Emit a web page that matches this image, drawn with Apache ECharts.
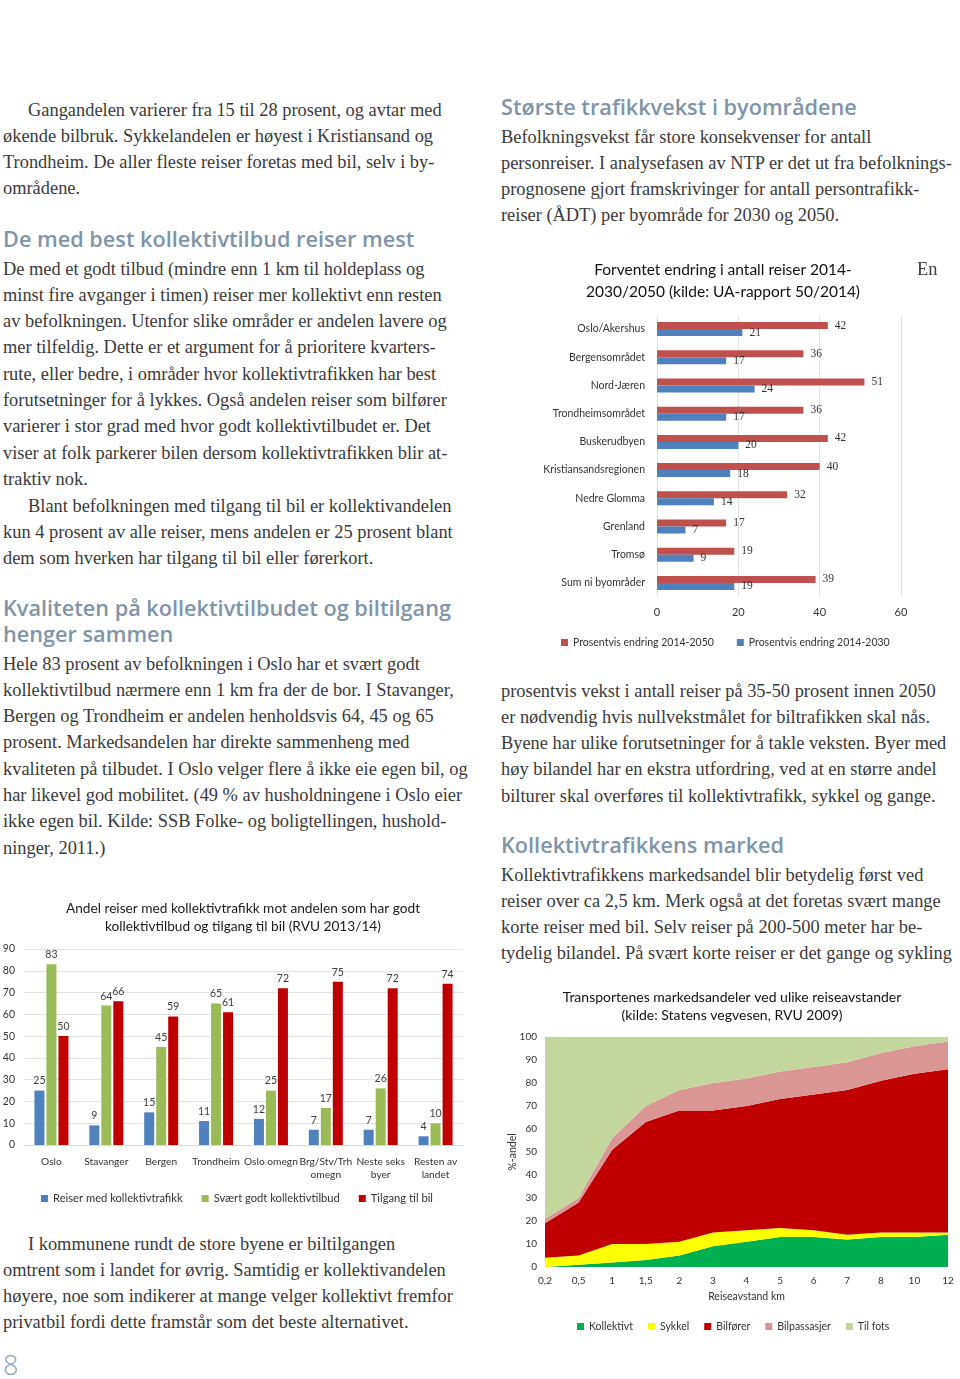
<!DOCTYPE html>
<html><head><meta charset="utf-8">
<script src="https://cdn.jsdelivr.net/npm/echarts@6/dist/echarts.min.js"></script>
<style>
html,body{margin:0;padding:0;background:#fff;}
#page{position:relative;width:960px;height:1379px;overflow:hidden;background:#fff;}
.ln{position:absolute;white-space:nowrap;font-family:"Liberation Serif",serif;font-size:18.4px;line-height:26px;color:#3a3a3a;}
.hd{position:absolute;white-space:nowrap;font-family:"Open Sans",sans-serif;font-weight:600;font-size:21.7px;line-height:26px;color:#8195a8;}
.ch{position:absolute;}
</style></head>
<body><div id="page">
<div id="c1" class="ch" style="left:0;top:890px;width:480px;height:330px;"></div>
<div id="c2" class="ch" style="left:500px;top:250px;width:460px;height:410px;"></div>
<div id="c3" class="ch" style="left:495px;top:980px;width:465px;height:360px;"></div>
</div>
<script>
// ---------- Chart 1 data ----------
const c1Categories = ['Oslo','Stavanger','Bergen','Trondheim','Oslo omegn','Brg/Stv/Trh\nomegn','Neste seks\nbyer','Resten av\nlandet'];
const c1Kollektiv = [25, 9, 15, 11, 12, 7, 7, 4];
const c1GodtTilbud = [83, 64, 45, 65, 25, 17, 26, 10];
const c1TilgangBil = [50, 66, 59, 61, 72, 75, 72, 74];
const c1Series = ['Reiser med kollektivtrafikk','Svært godt kollektivtilbud','Tilgang til bil'];

// ---------- Chart 2 data ----------
const c2Categories = ['Oslo/Akershus','Bergensområdet','Nord-Jæren','Trondheimsområdet','Buskerudbyen','Kristiansandsregionen','Nedre Glomma','Grenland','Tromsø','Sum ni byområder'];
const c2Endring2050 = [42, 36, 51, 36, 42, 40, 32, 17, 19, 39];
const c2Endring2030 = [21, 17, 24, 17, 20, 18, 14, 7, 9, 19];
const c2Series = ['Prosentvis endring 2014-2050','Prosentvis endring 2014-2030'];

// ---------- Chart 3 data ----------
const c3Distances = ['0,2','0,5','1','1,5','2','3','4','5','6','7','8','10','12'];
const c3Kollektivt   = [0, 1, 2, 3, 5, 9, 11, 13, 13, 12, 13, 13, 14];
const c3Sykkel       = [4, 4, 8, 7, 6, 6, 5, 4, 3, 2, 2, 2, 1];
const c3Bilforer     = [15, 23, 41, 53, 57, 53, 54, 56, 59, 63, 66, 69, 71];
const c3Bilpassasjer = [2, 2, 5, 7, 9, 12, 12, 12, 12, 12, 12, 12, 12];
const c3TilFots      = [79, 70, 44, 30, 23, 20, 18, 15, 13, 11, 7, 4, 2];
const c3Series = ['Kollektivt','Sykkel','Bilfører','Bilpassasjer','Til fots'];

// ---------- page text ----------
const textBlocks = [
 {x:3, y:109, indent:25, lines:[
  'Gangandelen varierer fra 15 til 28 prosent, og avtar med',
  'økende bilbruk. Sykkelandelen er høyest i Kristiansand og',
  'Trondheim. De aller fleste reiser foretas med bil, selv i by-',
  'områdene.']},
 {x:3, y:268, indent:0, lines:[
  'De med et godt tilbud (mindre enn 1 km til holdeplass og',
  'minst fire avganger i timen) reiser mer kollektivt enn resten',
  'av befolkningen. Utenfor slike områder er andelen lavere og',
  'mer tilfeldig. Dette er et argument for å prioritere kvarters-',
  'rute, eller bedre, i områder hvor kollektivtrafikken har best',
  'forutsetninger for å lykkes. Også andelen reiser som bilfører',
  'varierer i stor grad med hvor godt kollektivtilbudet er. Det',
  'viser at folk parkerer bilen dersom kollektivtrafikken blir at-',
  'traktiv nok.']},
 {x:3, y:505, indent:25, lines:[
  'Blant befolkningen med tilgang til bil er kollektivandelen',
  'kun 4 prosent av alle reiser, mens andelen er 25 prosent blant',
  'dem som hverken har tilgang til bil eller førerkort.']},
 {x:3, y:663, indent:0, lines:[
  'Hele 83 prosent av befolkningen i Oslo har et svært godt',
  'kollektivtilbud nærmere enn 1 km fra der de bor. I Stavanger,',
  'Bergen og Trondheim er andelen henholdsvis 64, 45 og 65',
  'prosent. Markedsandelen har direkte sammenheng med',
  'kvaliteten på tilbudet. I Oslo velger flere å ikke eie egen bil, og',
  'har likevel god mobilitet. (49 % av husholdningene i Oslo eier',
  'ikke egen bil. Kilde: SSB Folke- og boligtellingen, hushold-',
  'ninger, 2011.)']},
 {x:3, y:1243, indent:25, lines:[
  'I kommunene rundt de store byene er biltilgangen',
  'omtrent som i landet for øvrig. Samtidig er kollektivandelen',
  'høyere, noe som indikerer at mange velger kollektivt fremfor',
  'privatbil fordi dette framstår som det beste alternativet.']},
 {x:501, y:136, indent:0, lines:[
  'Befolkningsvekst får store konsekvenser for antall',
  'personreiser. I analysefasen av NTP er det ut fra befolknings-',
  'prognosene gjort framskrivinger for antall persontrafikk-',
  'reiser (ÅDT) per byområde for 2030 og 2050.']},
 {x:501, y:690, indent:0, lines:[
  'prosentvis vekst i antall reiser på 35-50 prosent innen 2050',
  'er nødvendig hvis nullvekstmålet for biltrafikken skal nås.',
  'Byene har ulike forutsetninger for å takle veksten. Byer med',
  'høy bilandel har en ekstra utfordring, ved at en større andel',
  'bilturer skal overføres til kollektivtrafikk, sykkel og gange.']},
 {x:501, y:874, indent:0, lines:[
  'Kollektivtrafikkens markedsandel blir betydelig først ved',
  'reiser over ca 2,5 km. Merk også at det foretas svært mange',
  'korte reiser med bil. Selv reiser på 200-500 meter har be-',
  'tydelig bilandel. På svært korte reiser er det gange og sykling']},
 {x:917, y:268, indent:0, lines:['En']}
];
const headings = [
 {x:3, y:239, text:'De med best kollektivtilbud reiser mest'},
 {x:3, y:608, text:'Kvaliteten på kollektivtilbudet og biltilgang'},
 {x:3, y:634, text:'henger sammen'},
 {x:501, y:107, text:'Største trafikkvekst i byområdene'},
 {x:501, y:845, text:'Kollektivtrafikkens marked'}
];
const LH = 26.3;
const page = document.getElementById('page');
textBlocks.forEach(b => {
  b.lines.forEach((t, i) => {
    const d = document.createElement('div');
    d.className = 'ln';
    d.textContent = t;
    d.style.left = (b.x + (i === 0 ? b.indent : 0)) + 'px';
    d.style.top = (b.y + i * LH - 12.5) + 'px';
    page.appendChild(d);
  });
});
headings.forEach(h => {
  const d = document.createElement('div');
  d.className = 'hd';
  d.textContent = h.text;
  d.style.left = h.x + 'px';
  d.style.top = (h.y - 13) + 'px';
  page.appendChild(d);
});
const pn = document.createElement('div');
pn.textContent = '8';
pn.style.cssText = 'position:absolute;left:3px;top:1349px;font-family:"Open Sans",sans-serif;font-weight:300;font-size:27px;line-height:32px;color:#8fa2b4;';
page.appendChild(pn);

const FONT = 'Lato';

// ---------- Chart 1 ----------
const ch1 = echarts.init(document.getElementById('c1'), null, {renderer:'canvas'});
const lbl1 = {show:true, position:'top', distance:4, fontFamily:FONT, fontSize:10.5, color:'#404040'};
ch1.setOption({
  animation:false,
  textStyle:{fontFamily:FONT},
  title:{text:'Andel reiser med kollektivtrafikk mot andelen som har godt\nkollektivtilbud og tilgang til bil (RVU 2013/14)',
    left:238, top:5, textAlign:'center',
    textStyle:{fontFamily:FONT, fontSize:13.7, fontWeight:'normal', color:'#1a1a1a', lineHeight:18}},
  legend:{left:36, top:298, itemWidth:7, itemHeight:7, itemGap:19, icon:'rect',
    textStyle:{fontFamily:FONT, fontSize:11.2, color:'#333'}, data:c1Series},
  grid:{left:24, right:17, top:59, bottom:75, outerBoundsMode:'none'},
  xAxis:{type:'category', data:c1Categories,
    axisLine:{lineStyle:{color:'#d9d9d9'}}, axisTick:{show:false},
    axisLabel:{fontFamily:FONT, fontSize:10.2, color:'#333', margin:10, lineHeight:13, interval:0}},
  yAxis:{type:'value', min:0, max:90, interval:10,
    axisLine:{show:false}, axisTick:{show:false},
    axisLabel:{fontFamily:FONT, fontSize:10.5, color:'#333', margin:9},
    splitLine:{lineStyle:{color:'#e3e3e3'}}},
  series:[
    {name:c1Series[0], type:'bar', data:c1Kollektiv, itemStyle:{color:'#4f81bd'}, barWidth:10, barGap:'20%', label:lbl1},
    {name:c1Series[1], type:'bar', data:c1GodtTilbud, itemStyle:{color:'#9bbb59'}, barWidth:10, barGap:'20%', label:lbl1},
    {name:c1Series[2], type:'bar', data:c1TilgangBil, itemStyle:{color:'#c00000'}, barWidth:10, barGap:'20%', label:lbl1}
  ]
});

// ---------- Chart 2 ----------
const ch2 = echarts.init(document.getElementById('c2'), null, {renderer:'canvas'});
const lbl2 = {show:true, position:'right', distance:7, fontFamily:'Liberation Serif', fontSize:11.5, color:'#333'};
ch2.setOption({
  animation:false,
  textStyle:{fontFamily:FONT},
  title:{text:'Forventet endring i antall reiser 2014-\n2030/2050 (kilde: UA-rapport 50/2014)',
    left:218, top:4, textAlign:'center',
    textStyle:{fontFamily:FONT, fontSize:15.5, fontWeight:'normal', color:'#111', lineHeight:22}},
  legend:{left:56, top:382, itemWidth:7, itemHeight:7, itemGap:23, icon:'rect',
    textStyle:{fontFamily:FONT, fontSize:10.5, color:'#333'}, data:c2Series},
  grid:{left:157, right:59, top:65, bottom:63, outerBoundsMode:'none'},
  xAxis:{type:'value', min:0, max:60, interval:20,
    axisLine:{show:false}, axisTick:{show:false},
    axisLabel:{fontFamily:FONT, fontSize:11, color:'#333', margin:10},
    splitLine:{lineStyle:{color:'#e3e3e3'}}},
  yAxis:{type:'category', inverse:true, data:c2Categories,
    axisLine:{lineStyle:{color:'#e3e3e3'}}, axisTick:{show:false},
    axisLabel:{fontFamily:FONT, fontSize:10.5, color:'#333', margin:12}},
  series:[
    {name:c2Series[0], type:'bar', data:c2Endring2050, itemStyle:{color:'#c0504d'}, barWidth:7, barGap:'0%', label:lbl2},
    {name:c2Series[1], type:'bar', data:c2Endring2030, itemStyle:{color:'#4f81bd'}, barWidth:7, barGap:'0%', label:lbl2}
  ]
});

// ---------- Chart 3 ----------
const ch3 = echarts.init(document.getElementById('c3'), null, {renderer:'canvas'});
const c3Colors = ['#00b050','#ffff00','#c00000','#d99694','#c3d69b'];
const c3Data = [c3Kollektivt, c3Sykkel, c3Bilforer, c3Bilpassasjer, c3TilFots];
ch3.setOption({
  animation:false,
  textStyle:{fontFamily:FONT},
  title:{text:'Transportenes markedsandeler ved ulike reiseavstander\n(kilde: Statens vegvesen, RVU 2009)',
    left:232, top:3, textAlign:'center',
    textStyle:{fontFamily:FONT, fontSize:14, fontWeight:'normal', color:'#111', lineHeight:18}},
  legend:{left:77, top:336, itemWidth:7, itemHeight:7, itemGap:15, icon:'rect',
    textStyle:{fontFamily:FONT, fontSize:10.5, color:'#333'}, data:c3Series},
  grid:{left:50, right:12, top:57, bottom:73, outerBoundsMode:'none'},
  xAxis:{type:'category', boundaryGap:false, data:c3Distances,
    name:'Reiseavstand km', nameLocation:'middle', nameGap:23,
    nameTextStyle:{fontFamily:FONT, fontSize:10.5, color:'#333'},
    axisLine:{show:false}, axisTick:{show:false},
    axisLabel:{fontFamily:FONT, fontSize:10, color:'#333', margin:9}},
  yAxis:{type:'value', min:0, max:100, interval:10,
    name:'%-andel', nameLocation:'middle', nameGap:27, nameRotate:90, nameMoveOverlap:false,
    nameTextStyle:{fontFamily:FONT, fontSize:10.5, color:'#333'},
    axisLine:{show:false}, axisTick:{show:false},
    axisLabel:{fontFamily:FONT, fontSize:10, color:'#333', margin:8},
    splitLine:{show:false}},
  series:c3Series.map((n, i) => ({
    name:n, type:'line', stack:'total', data:c3Data[i], symbol:'none',
    lineStyle:{width:0}, itemStyle:{color:c3Colors[i]},
    areaStyle:{color:c3Colors[i], opacity:1}
  }))
});
</script>
</body></html>
